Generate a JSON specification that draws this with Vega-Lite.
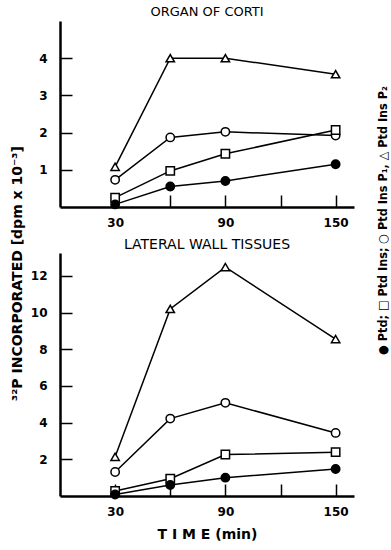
{
  "$schema": "https://vega.github.io/schema/vega-lite/v6.json",
  "background": "white",
  "padding": {"left": 11, "top": 6, "right": 2, "bottom": 2},
  "config": {
    "view": {"stroke": null},
    "font": "DejaVu Sans",
    "axis": {
      "grid": false,
      "domainColor": "black",
      "domainWidth": 2.5,
      "tickColor": "black",
      "tickWidth": 1.5,
      "tickSize": -12,
      "labelFont": "DejaVu Sans",
      "labelFontWeight": "bold",
      "labelFontSize": 12,
      "labelColor": "black"
    },
    "axisX": {"labelPadding": 22},
    "axisY": {"labelPadding": 25}
  },
  "title": {
    "text": "● Ptd; □ Ptd Ins; ○ Ptd Ins P₁, △ Ptd Ins P₂",
    "orient": "right",
    "angle": -90,
    "anchor": "middle",
    "font": "DejaVu Sans Condensed",
    "fontSize": 12.5,
    "fontWeight": "bold",
    "color": "black",
    "offset": 10,
    "dx": 53
  },
  "datasets": {
    "corti": [
      {"series": "Ptd Ins P2", "time": 30, "value": 1.08},
      {"series": "Ptd Ins P2", "time": 60, "value": 4.0},
      {"series": "Ptd Ins P2", "time": 90, "value": 4.0},
      {"series": "Ptd Ins P2", "time": 150, "value": 3.57},
      {"series": "Ptd Ins P1", "time": 30, "value": 0.73},
      {"series": "Ptd Ins P1", "time": 60, "value": 1.87},
      {"series": "Ptd Ins P1", "time": 90, "value": 2.02},
      {"series": "Ptd Ins P1", "time": 150, "value": 1.92},
      {"series": "Ptd Ins", "time": 30, "value": 0.25},
      {"series": "Ptd Ins", "time": 60, "value": 0.97},
      {"series": "Ptd Ins", "time": 90, "value": 1.43},
      {"series": "Ptd Ins", "time": 150, "value": 2.07},
      {"series": "Ptd", "time": 30, "value": 0.07},
      {"series": "Ptd", "time": 60, "value": 0.55},
      {"series": "Ptd", "time": 90, "value": 0.7},
      {"series": "Ptd", "time": 150, "value": 1.15}
    ],
    "lateral": [
      {"series": "Ptd Ins P2", "time": 30, "value": 2.14},
      {"series": "Ptd Ins P2", "time": 60, "value": 10.2},
      {"series": "Ptd Ins P2", "time": 90, "value": 12.48},
      {"series": "Ptd Ins P2", "time": 150, "value": 8.56},
      {"series": "Ptd Ins P1", "time": 30, "value": 1.31},
      {"series": "Ptd Ins P1", "time": 60, "value": 4.22},
      {"series": "Ptd Ins P1", "time": 90, "value": 5.08},
      {"series": "Ptd Ins P1", "time": 150, "value": 3.44},
      {"series": "Ptd Ins", "time": 30, "value": 0.27},
      {"series": "Ptd Ins", "time": 60, "value": 0.94},
      {"series": "Ptd Ins", "time": 90, "value": 2.26},
      {"series": "Ptd Ins", "time": 150, "value": 2.39},
      {"series": "Ptd", "time": 30, "value": 0.08},
      {"series": "Ptd", "time": 60, "value": 0.6},
      {"series": "Ptd", "time": 90, "value": 1.0},
      {"series": "Ptd", "time": 150, "value": 1.47}
    ]
  },
  "hconcat": [
    {
      "title": {
        "text": "³²P INCORPORATED [dpm x 10⁻³]",
        "orient": "left",
        "anchor": "middle",
        "font": "DejaVu Sans",
        "fontSize": 14,
        "fontWeight": "bold",
        "color": "black",
        "offset": 5
      },
      "spacing": 10,
      "vconcat": [
        {
          "width": 294,
          "height": 186,
          "title": {"text": "ORGAN OF CORTI", "font": "DejaVu Sans", "fontSize": 13, "fontWeight": "normal", "color": "black", "anchor": "middle", "offset": 2},
          "data": {"name": "corti"},
          "encoding": {
            "x": {"field": "time", "type": "quantitative",
                  "scale": {"domain": [0, 160], "nice": false, "zero": false},
                  "axis": {"values": [30, 60, 90, 120, 150], "labelExpr": "datum.value == 60 || datum.value == 120 ? '' : datum.label", "title": null}},
            "y": {"field": "value", "type": "quantitative",
                  "scale": {"domain": [0, 5], "nice": false},
                  "axis": {"values": [1, 2, 3, 4], "title": null}}
          },
          "layer": [
            {"mark": {"type": "line", "color": "black", "strokeWidth": 1.5}, "encoding": {"detail": {"field": "series"}}},
            {"mark": {"type": "point", "filled": true, "stroke": "black", "strokeWidth": 1.5, "size": 70, "opacity": 1},
             "encoding": {
               "shape": {"field": "series", "scale": {"domain": ["Ptd", "Ptd Ins", "Ptd Ins P1", "Ptd Ins P2"], "range": ["circle", "square", "circle", "triangle-up"]}, "legend": null},
               "fill": {"field": "series", "scale": {"domain": ["Ptd", "Ptd Ins", "Ptd Ins P1", "Ptd Ins P2"], "range": ["black", "white", "white", "white"]}, "legend": null}
             }}
          ]
        },
        {
          "width": 294,
          "height": 243,
          "title": {"text": "LATERAL WALL TISSUES", "font": "DejaVu Sans", "fontSize": 14, "fontWeight": "normal", "color": "black", "anchor": "middle", "offset": 1},
          "data": {"name": "lateral"},
          "encoding": {
            "x": {"field": "time", "type": "quantitative",
                  "scale": {"domain": [0, 160], "nice": false, "zero": false},
                  "axis": {"values": [30, 60, 90, 120, 150], "labelExpr": "datum.value == 60 || datum.value == 120 ? '' : datum.label",
                           "title": "T I M E  (min)", "titleFont": "DejaVu Sans", "titleFontSize": 14, "titleFontWeight": "bold", "titleColor": "black", "titlePadding": 10}},
            "y": {"field": "value", "type": "quantitative",
                  "scale": {"domain": [0, 13.25], "nice": false},
                  "axis": {"values": [2, 4, 6, 8, 10, 12], "title": null}}
          },
          "layer": [
            {"mark": {"type": "line", "color": "black", "strokeWidth": 1.5}, "encoding": {"detail": {"field": "series"}}},
            {"mark": {"type": "point", "filled": true, "stroke": "black", "strokeWidth": 1.5, "size": 70, "opacity": 1},
             "encoding": {
               "shape": {"field": "series", "scale": {"domain": ["Ptd", "Ptd Ins", "Ptd Ins P1", "Ptd Ins P2"], "range": ["circle", "square", "circle", "triangle-up"]}, "legend": null},
               "fill": {"field": "series", "scale": {"domain": ["Ptd", "Ptd Ins", "Ptd Ins P1", "Ptd Ins P2"], "range": ["black", "white", "white", "white"]}, "legend": null}
             }}
          ]
        }
      ]
    }
  ]
}
